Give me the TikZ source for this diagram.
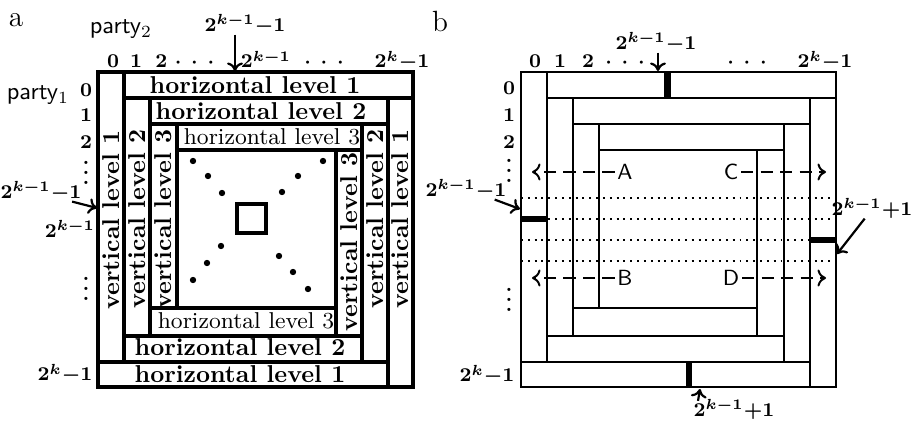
\documentclass[tikz,border=0pt]{standalone}
\usepackage{amsmath}
\usetikzlibrary{arrows, arrows.meta, positioning}

\tikzset{
  boxa/.style={line width=1.3pt},
  boxb/.style={line width=0.8pt},
  hlev/.style={font=\bfseries, inner sep=0pt},
  hlevthin/.style={font=\fontsize{9.4}{11}\selectfont, inner sep=0pt},
  vlev/.style={font=\bfseries, rotate=90, inner sep=0pt},
  idx/.style={font=\fontsize{8.2}{10}\selectfont\bfseries\boldmath, inner sep=0pt},
  party/.style={font=\sffamily, inner sep=0pt},
  panel/.style={font=\fontsize{12}{14}\selectfont, inner sep=0pt},
  ptr/.style={-{To[length=3.5pt, width=6.5pt]}, line width=0.9pt},
  sweep/.style={-{To[length=3.5pt, width=7pt]}, line width=0.8pt, dash pattern=on 5pt off 3pt},
  cutrow/.style={line width=0.8pt, dash pattern=on 0.8pt off 2pt},
  bar/.style={fill=black},
  letter/.style={font=\sffamily\small, inner sep=1pt}
}
\newcommand{\spreaddots}{${\cdot}\hspace{4pt}{\cdot}\hspace{4pt}{\cdot}$}
\newcommand{\stackdots}{\vbox{\baselineskip=4pt\lineskiplimit=0pt\hbox{.}\hbox{.}\hbox{.}}}

\begin{document}
\begin{tikzpicture}[x=0.41pt, y=-0.41pt]
        \useasboundingbox (0,0) rectangle (911,425);

        % ---------------- panel a ----------------
        \node[panel] (lbla) at (16,20) {a};
        \node[party] (party2) at (121,29) {party$_2$};
        \node[party] (party1) at (38,95) {party$_1$};

        % level 1
        \draw[boxa] (98,72) rectangle (124,362);
        \draw[boxa] (124,72) rectangle (413,98);
        \draw[boxa] (388,98) rectangle (413,387);
        \draw[boxa] (98,362) rectangle (388,387);
        % level 2
        \draw[boxa] (124,98) rectangle (150,336);
        \draw[boxa] (150,98) rectangle (388,124);
        \draw[boxa] (362,124) rectangle (388,362);
        \draw[boxa] (124,336) rectangle (362,362);
        % level 3
        \draw[boxa] (150,124) rectangle (177,308);
        \draw[boxa] (177,124) rectangle (362,150);
        \draw[boxa] (336,150) rectangle (362,336);
        \draw[boxa] (150,308) rectangle (336,336);

        % level names
        \node[hlev] (htop1) at (255,85) {horizontal level 1};
        \node[hlev] (htop2) at (261,111) {horizontal level 2};
        \node[hlevthin] (htop3) at (272,137) {horizontal level 3};
        \node[hlevthin] (hbot3) at (246,321) {horizontal level 3};
        \node[hlev] (hbot2) at (240,347) {horizontal level 2};
        \node[hlev] (hbot1) at (240,374) {horizontal level 1};
        \node[vlev] (vleft1) at (111,220) {vertical level 1};
        \node[vlev] (vleft2) at (137,219) {vertical level 2};
        \node[vlev] (vleft3) at (163.5,219) {vertical level 3};
        \node[vlev] (vright3) at (349,242) {vertical level 3};
        \node[vlev] (vright2) at (375,219) {vertical level 2};
        \node[vlev] (vright1) at (400.5,219) {vertical level 1};

        % centre square and the dots
        \draw[line width=1.5pt] (237,204) rectangle (266,233);
        \foreach \p in {(193,161),(208,176),(222,193),(323,161),(298,176),(282,192),
                        (221,246),(207,263),(193,280),(279,256),(293,272),(308,289)}
            \fill \p circle (1.3pt);

        % column indices
        \node[idx, anchor=base] (ca0) at (113,68) {$0$};
        \node[idx, anchor=base] (ca1) at (136,68) {$1$};
        \node[idx, anchor=base west] (ca2) at (155,68) {$2$\hspace{3pt}\spreaddots};
        \node[idx, anchor=base] (camid) at (266,68) {$2^{k-1}$};
        \node[idx, anchor=base] (cadots) at (324,68) {\spreaddots};
        \node[idx, anchor=base] (calast) at (402,68) {$2^{k}{-}1$};
        \node[idx] (topa) at (245,24) {$2^{k-1}{-}1$};
        \coordinate (topaTip) at (235,71);
        \draw[ptr] (topa.south -| topaTip) -- (topaTip);

        % row indices
        \node[idx] (ra0) at (86,90) {$0$};
        \node[idx] (ra1) at (86,115) {$1$};
        \node[idx] (ra2) at (86,142) {$2$};
        \node[idx] (radots) at (86,173) {\stackdots};
        \node[idx] (lefta) at (41,191) {$2^{k-1}{-}1$};
        \coordinate (leftaTip) at (97,208);
        \draw[ptr] ([xshift=-4pt]lefta.south east) -- (leftaTip);
        \node[idx] (ramid) at (70,229) {$2^{k-1}$};
        \node[idx] (radots2) at (86,289) {\stackdots};
        \node[idx] (ralast) at (65,374) {$2^{k}{-}1$};

        % ---------------- panel b ----------------
        \node[panel] (lblb) at (440,21) {b};

        % cut rows
        \foreach \y in {198,219,240,261}
            \draw[cutrow] (521,\y) -- (836,\y);

        % level 1
        \draw[boxb] (521,72) rectangle (547,362);
        \draw[boxb] (547,72) rectangle (836,98);
        \draw[boxb] (810,98) rectangle (836,387);
        \draw[boxb] (521,362) rectangle (810,387);
        % level 2
        \draw[boxb] (547,98) rectangle (573,336);
        \draw[boxb] (573,98) rectangle (810,124);
        \draw[boxb] (784,124) rectangle (810,362);
        \draw[boxb] (547,336) rectangle (784,362);
        % level 3
        \draw[boxb] (573,124) rectangle (599,308);
        \draw[boxb] (599,124) rectangle (784,150);
        \draw[boxb] (757,150) rectangle (784,336);
        \draw[boxb] (573,308) rectangle (757,336);

        % thick bars
        \fill[bar] (664,72) rectangle (671,98);
        \fill[bar] (521,216) rectangle (547,222);
        \fill[bar] (810,237) rectangle (836,243);
        \fill[bar] (686,362) rectangle (692,387);

        % sweeps
        \node[letter] (ptA) at (625,172) {A};
        \node[letter] (ptC) at (731,172) {C};
        \node[letter] (ptB) at (625,278) {B};
        \node[letter] (ptD) at (731,278) {D};
        \coordinate (endA) at (532,172);
        \coordinate (endC) at (826,172);
        \coordinate (endB) at (532,278);
        \coordinate (endD) at (826,278);
        \draw[sweep] (ptA) -- (endA);
        \draw[sweep] (ptC) -- (endC);
        \draw[sweep] (ptB) -- (endB);
        \draw[sweep] (ptD) -- (endD);

        % column indices
        \node[idx, anchor=base] (cb0) at (535,68) {$0$};
        \node[idx, anchor=base] (cb1) at (560,68) {$1$};
        \node[idx, anchor=base] (cb2) at (588,68) {$2$};
        \node[idx, anchor=base] (cbdots) at (625,68) {\spreaddots};
        \node[idx, anchor=base] (cbdots2) at (747,68) {\spreaddots};
        \node[idx, anchor=base] (cblast) at (825,68) {$2^{k}{-}1$};
        \node[idx] (topb) at (656,42) {$2^{k-1}{-}1$};
        \coordinate (topbTip) at (658,71);
        \draw[ptr] (topb.south -| topbTip) -- (topbTip);

        % row indices
        \node[idx] (rb0) at (509,88) {$0$};
        \node[idx] (rb1) at (509,115) {$1$};
        \node[idx] (rb2) at (509,142) {$2$};
        \node[idx] (rbdots) at (509,171) {\stackdots};
        \node[idx] (leftb) at (466,189) {$2^{k-1}{-}1$};
        \coordinate (leftbTip) at (520,209);
        \draw[ptr] ([xshift=-5pt]leftb.south east) -- (leftbTip);
        \node[idx] (rbdots2) at (509,300) {\stackdots};
        \node[idx] (rblast) at (487,375) {$2^{k}{-}1$};

        % the two +1 pointers
        \node[idx] (rightb) at (872,208) {$2^{k-1}{+}1$};
        \coordinate (rightbTip) at (837,254);
        \draw[ptr] ([xshift=-3pt]rightb.south) -- (rightbTip);
        \node[idx] (botb) at (734,409) {$2^{k-1}{+}1$};
        \coordinate (botbTip) at (700,389);
        \draw[ptr] ([xshift=2pt,yshift=-1pt]botb.north west) -- (botbTip);
    \end{tikzpicture}
\end{document}
